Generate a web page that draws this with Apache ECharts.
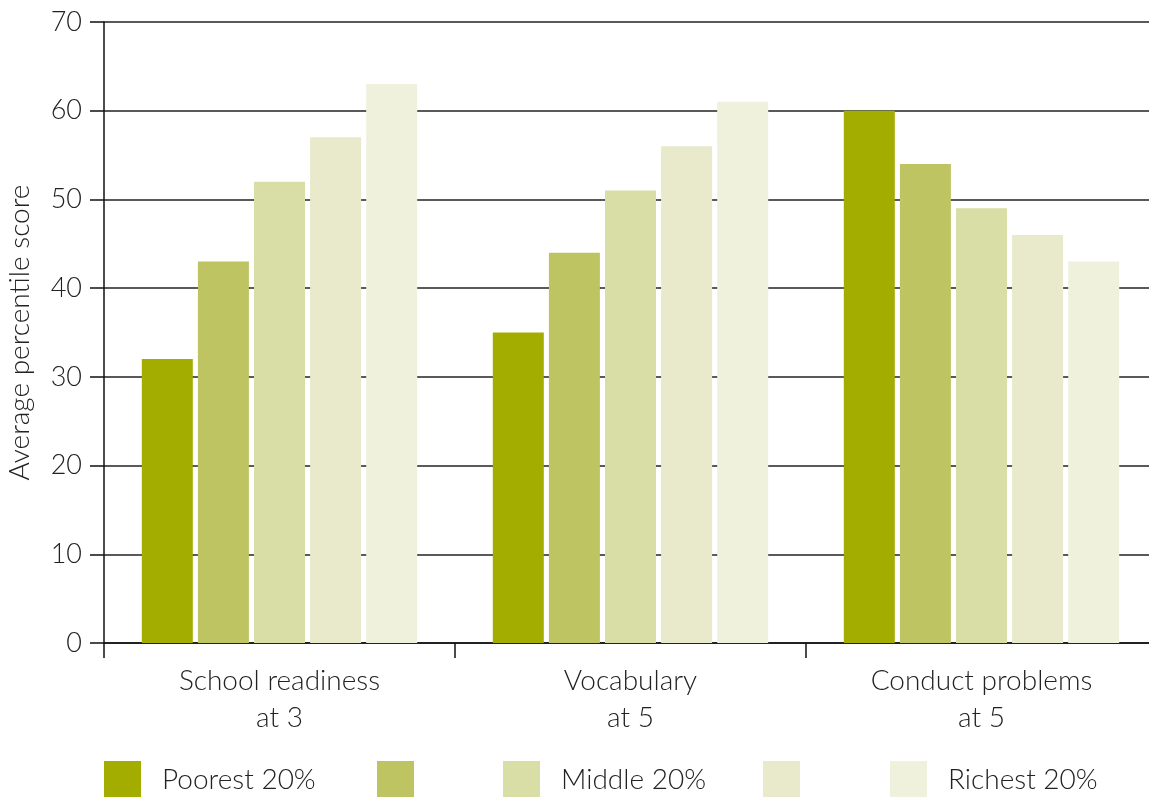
<!DOCTYPE html>
<html>
<head>
<meta charset="utf-8">
<script src="https://cdn.jsdelivr.net/npm/echarts@6/dist/echarts.min.js"></script>
<style>
html,body{margin:0;padding:0;background:#fff;}
#chart{width:1149px;height:797px;}
</style>
</head>
<body>
<div id="chart"></div>
<script>
var categories = ['School readiness\nat 3', 'Vocabulary\nat 5', 'Conduct problems\nat 5'];
var seriesNames = ['Poorest 20%', 'Second 20%', 'Middle 20%', 'Fourth 20%', 'Richest 20%'];
var legendLabels = ['Poorest 20%', '', 'Middle 20%', '', 'Richest 20%'];
var poorest = [32, 35, 60];
var second = [43, 44, 54];
var middle = [52, 51, 49];
var fourth = [57, 56, 46];
var richest = [63, 61, 43];
var yTicks = [0, 10, 20, 30, 40, 50, 60, 70];

var values = [poorest, second, middle, fourth, richest];
var colors = ['#a3ad00', '#bfc463', '#d9dea6', '#e8eacb', '#eff1dc'];
var FONT = 'Lato, "Open Sans", sans-serif';
var legendLefts = [104, 377, 503, 763, 890];

var chart = echarts.init(document.getElementById('chart'));
var series = seriesNames.map(function (n, i) {
  return {
    name: n, type: 'bar', data: values[i], barWidth: 51, barGap: '10%',
    itemStyle: { color: colors[i] }
  };
});
var legends = seriesNames.map(function (n, i) {
  return {
    data: [n], left: legendLefts[i], top: 761, itemWidth: 37, itemHeight: 37,
    itemGap: 0, icon: 'rect', selectedMode: false, padding: 0,
    formatter: function () { return legendLabels[i]; },
    textStyle: { fontFamily: FONT, fontWeight: 300, fontSize: 28, color: '#222', padding: [0, 0, 0, 16] }
  };
});
chart.setOption({
  animation: false,
  color: colors,
  grid: { left: 104, top: 22, right: -8, height: 621, containLabel: false, outerBoundsMode: 'none' },
  legend: legends,
  xAxis: {
    type: 'category', data: categories,
    axisLine: { lineStyle: { color: '#111', width: 1.5 } },
    axisTick: { show: true, length: 15, lineStyle: { color: '#111', width: 1.5 } },
    axisLabel: { fontFamily: FONT, fontWeight: 300, fontSize: 28, color: '#222', lineHeight: 37, margin: 19 }
  },
  yAxis: {
    type: 'value', min: 0, max: 70, interval: 10,
    name: 'Average percentile score', nameLocation: 'middle', nameGap: 70,
    nameTextStyle: { fontFamily: FONT, fontWeight: 300, fontSize: 28, color: '#222' },
    axisLine: { show: true, lineStyle: { color: '#111', width: 1.5 } },
    axisTick: { show: true, length: 14, lineStyle: { color: '#111', width: 1.5 } },
    axisLabel: { fontFamily: FONT, fontWeight: 300, fontSize: 27, color: '#222', margin: 22,
      formatter: function (v) { return yTicks.indexOf(v) >= 0 ? String(v) : ''; } },
    splitLine: { lineStyle: { color: '#222', width: 1.5 } }
  },
  series: series
});
</script>
</body>
</html>
